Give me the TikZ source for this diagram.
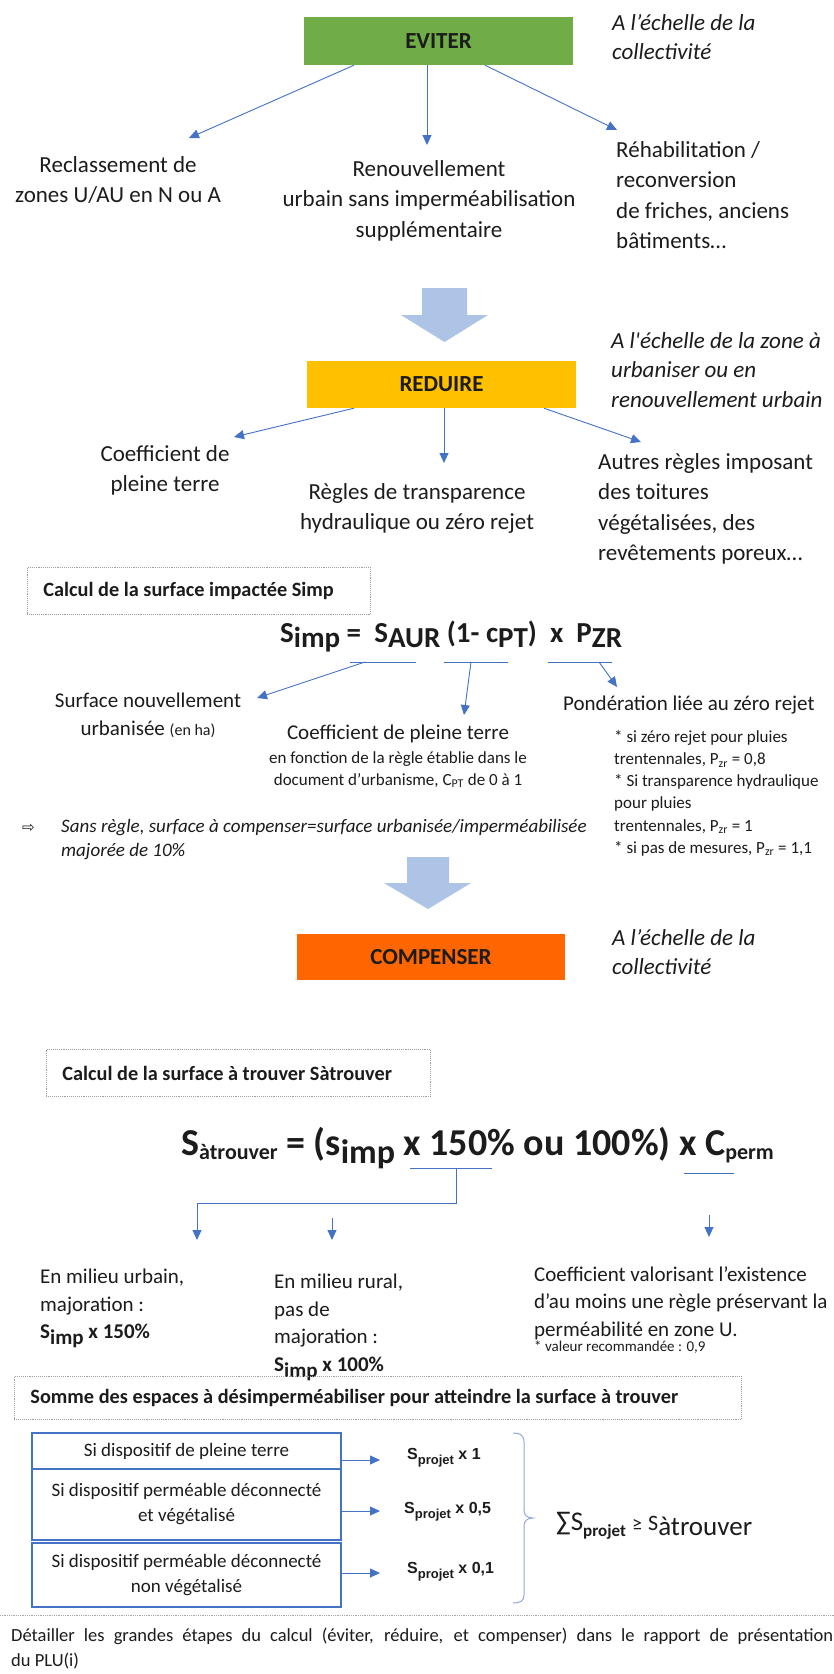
\documentclass[tikz,border=0pt]{standalone}
\usepackage{fontspec}
\setmainfont{Carlito}
\newfontfamily\arialfont{Liberation Sans}
\newfontfamily\dejavufont{DejaVu Sans}
\usetikzlibrary{arrows.meta}
\newcommand\myfs[2]{\fontsize{#1}{#2}\selectfont}
\newcommand\mysub[2][5pt]{\lower#1\hbox{#2}}
\definecolor{linkblue}{HTML}{4472C4}
\definecolor{bigblue}{HTML}{AEC4E6}
\definecolor{evgreen}{HTML}{70AD47}
\definecolor{redyellow}{HTML}{FFC000}
\definecolor{comporange}{HTML}{FF6600}
\definecolor{txtdark}{HTML}{1C1C1C}
\definecolor{bracecol}{HTML}{8FAADC}
\tikzset{
 stagebox/.style={inner sep=0pt, font=\bfseries\myfs{23}{28}, text=txtdark},
 note/.style={inner sep=0pt, anchor=north west, align=left, font=\itshape\myfs{23}{29.5}, text=txtdark},
 body/.style={inner sep=0pt, font=\myfs{23}{30.5}, text=txtdark},
 mid/.style={inner sep=0pt, font=\myfs{21}{27.5}, text=txtdark},
 small/.style={inner sep=0pt, font=\myfs{17}{22.2}, text=txtdark},
 link/.style={draw=linkblue, line width=0.9pt, -{Triangle[width=9pt,length=10pt]}},
 uline/.style={draw=linkblue, line width=0.9pt},
 dotbox/.style={draw=gray!75, densely dotted, line width=0.9pt, inner xsep=16pt, inner ysep=0pt, anchor=north west, align=left, font=\bfseries\myfs{20.3}{25}, text=txtdark},
 bbox/.style={draw=linkblue, line width=2pt, minimum width=309pt, inner sep=0pt, align=center, font=\myfs{19}{25}, text=txtdark},
 bigarrow/.style={fill=bigblue},
 projet/.style={inner sep=0pt, anchor=west, font=\arialfont\bfseries\myfs{16}{18}, text=txtdark},
}
\begin{document}
\begin{tikzpicture}[x=1pt,y=-1pt]
\useasboundingbox (0,0) rectangle (834,1674);
\fill[white] (0,0) rectangle (834,1674);

% ---------- EVITER ----------
\node[stagebox, fill=evgreen, minimum width=269pt, minimum height=48pt] (ev) at (438.5,41) {EVITER};
\node[note] (n1) at (612,14) {A l’échelle de la\\collectivité};
\node[body, anchor=north, align=center] (t1) at (118,156) {Reclassement de\\zones U/AU en N ou A};
\node[body, anchor=north, align=center] (t2) at (429,160) {Renouvellement\\urbain sans imperméabilisation\\supplémentaire};
\node[body, anchor=north west, align=left] (t3) at (616,141) {Réhabilitation /\\reconversion\\de friches, anciens\\bâtiments…};
\coordinate (e1) at (189,138);
\coordinate (e2) at (427,145);
\coordinate (e3) at (617,130);
\draw[link] ([xshift=-84.5pt]ev.south) -- (e1);
\draw[link] ([xshift=-11.5pt]ev.south) -- (e2);
\draw[link] ([xshift=46.5pt]ev.south) -- (e3);

% big arrow 1
\fill[bigarrow] (422,288) -- (467,288) -- (467,315) -- (488,315) -- (444.5,342) -- (401,315) -- (422,315) -- cycle;

% ---------- REDUIRE ----------
\node[note] (n2) at (611,332) {A l\textquotesingle échelle de la zone à\\urbaniser ou en\\renouvellement urbain};
\node[stagebox, fill=redyellow, minimum width=269pt, minimum height=47pt] (re) at (441.5,384.5) {REDUIRE};
\node[body, anchor=north, align=center] (r1) at (165,445) {Coefficient de\\pleine terre};
\node[body, anchor=north, align=center] (r2) at (417,483) {Règles de transparence\\hydraulique ou zéro rejet};
\node[body, anchor=north west, align=left] (r3) at (598,453) {Autres règles imposant\\des toitures\\végétalisées, des\\revêtements poreux…};
\coordinate (q1) at (234,437);
\coordinate (q2) at (444,463);
\coordinate (q3) at (641,442);
\draw[link] ([xshift=-87.5pt]re.south) -- (q1);
\draw[link] ([xshift=2.5pt]re.south) -- (q2);
\draw[link] ([xshift=102.5pt]re.south) -- (q3);

% ---------- Simp ----------
\node[dotbox, minimum width=343pt, minimum height=47pt] (d1) at (27,567) {\makebox[311pt][l]{Calcul de la surface impactée Simp}};
\node[anchor=base west, inner sep=0pt, font=\bfseries\myfs{29}{31}, text=txtdark] (f1) at (280,642)
  {S\mysub{imp} =\ \ S\mysub{AUR} (1-\ c\mysub{PT})\ \ x\ \ P\mysub{ZR}};
\coordinate (u1a) at (350,662); \coordinate (u1b) at (416,662); \coordinate (u1s) at (365,662);
\coordinate (u2a) at (444,662); \coordinate (u2b) at (508,662); \coordinate (u2s) at (471,662);
\coordinate (u3a) at (548,662); \coordinate (u3b) at (612,662); \coordinate (u3s) at (599,662);
\draw[uline] (u1a) -- (u1b);
\draw[uline] (u2a) -- (u2b);
\draw[uline] (u3a) -- (u3b);
\coordinate (g1) at (257,698);
\coordinate (g2) at (464,715);
\coordinate (g3) at (617,687);
\draw[link] (u1s) -- (g1);
\draw[link] (u2s) -- (g2);
\draw[link] (u3s) -- (g3);
\node[mid, anchor=north, align=center] (s1) at (148,693) {Surface nouvellement\\urbanisée {\myfs{16}{20}(en ha)}};
\node[mid, anchor=north] (s2) at (398,725) {Coefficient de pleine terre};
\node[small, anchor=north, align=center] (s2d) at (398,751) {en fonction de la règle établie dans le\\document d’urbanisme, C\textsubscript{PT} de 0 à 1};
\node[mid, anchor=north west] (s3) at (563,696) {Pondération liée au zéro rejet};
\node[small, anchor=north west, align=left] (s3d) at (614,730) {* si zéro rejet pour pluies\\trentennales, P\textsubscript{zr} = 0,8\\* Si transparence hydraulique\\pour pluies\\trentennales, P\textsubscript{zr} = 1\\* si pas de mesures, P\textsubscript{zr} = 1,1};
\node[inner sep=0pt, anchor=west, font=\dejavufont\myfs{15}{18}, text=txtdark] (sr0) at (22,828) {⇨};
\node[inner sep=0pt, anchor=north west, align=left, font=\itshape\myfs{19}{24}, text=txtdark] (sr) at (61,819) {Sans règle, surface à compenser=surface urbanisée/imperméabilisée\\majorée de 10\%};

% big arrow 2
\fill[bigarrow] (407,857) -- (449,857) -- (449,883) -- (471,883) -- (428,909) -- (384,883) -- (407,883) -- cycle;

% ---------- COMPENSER ----------
\node[stagebox, fill=comporange, minimum width=268pt, minimum height=46pt] (co) at (431,957) {COMPENSER};
\node[note] (n3) at (612,929) {A l’échelle de la\\collectivité};

% ---------- Satrouver ----------
\node[dotbox, minimum width=384pt, minimum height=47pt] (d2) at (46,1049) {\makebox[352pt][l]{Calcul de la surface à trouver Sàtrouver}};
\node[anchor=base west, inner sep=0pt, font=\bfseries\myfs{38}{42}, text=txtdark] (f2) at (181,1155)
  {S\mysub[4pt]{\myfs{22}{24}àtrouver} = (s\mysub[8pt]{\myfs{34}{36}imp} x 150\% ou 100\%) x C\mysub[4pt]{\myfs{22}{24}perm}};
\coordinate (w1a) at (410,1168); \coordinate (w1b) at (492,1168); \coordinate (w1s) at (456,1168);
\coordinate (w2a) at (684,1173); \coordinate (w2b) at (734,1173);
\draw[uline] (w1a) -- (w1b);
\draw[uline] (w2a) -- (w2b);
\coordinate (h1) at (197,1240);
\coordinate (h2s) at (332,1218); \coordinate (h2) at (332,1240);
\coordinate (h3s) at (709,1215); \coordinate (h3) at (709,1237);
\draw[link] (w1s) |- (h1 |- 0,1203) -- (h1);
\draw[link] (h2s) -- (h2);
\draw[link] (h3s) -- (h3);
\node[mid, anchor=north west, align=left] (m1) at (40,1269) {En milieu urbain,\\majoration :\\{\bfseries S\mysub[6pt]{imp} x 150\%}};
\node[mid, anchor=north west, align=left] (m2) at (274,1274) {En milieu rural,\\pas de\\majoration :\\{\bfseries S\mysub[6pt]{imp} x 100\%}};
\node[mid, anchor=north west, align=left] (m3) at (534,1266) {Coefficient valorisant l’existence\\d’au moins une règle préservant la\\perméabilité en zone U.};
\node[inner sep=0pt, anchor=north west, font=\myfs{15}{18}, text=txtdark] (m3d) at (534,1341) {* valeur recommandée : 0,9};

% ---------- Somme ----------
\node[dotbox, minimum width=727pt, minimum height=43pt] (d3) at (14,1376) {\makebox[695pt][l]{Somme des espaces à désimperméabiliser pour atteindre la surface à trouver}};
\node[bbox, minimum height=36pt] (b1) at (186.5,1451) {Si dispositif de pleine terre};
\node[bbox, minimum height=71pt] (b2) at (186.5,1504.5) {Si dispositif perméable déconnecté\\et végétalisé};
\node[bbox, minimum height=64pt] (b3) at (186.5,1575) {Si dispositif perméable déconnecté\\non végétalisé};
\coordinate (k1) at (380,1460);
\coordinate (k2) at (380,1511);
\coordinate (k3) at (380,1573);
\draw[link] ([yshift=-9pt]b1.east) -- (k1);
\draw[link] ([yshift=-6.5pt]b2.east) -- (k2);
\draw[link] ([yshift=2pt]b3.east) -- (k3);
\node[projet] (p1) at (407,1458) {S\mysub[5pt]{\myfs{13}{15}projet} x 1};
\node[projet] (p2) at (404,1512) {S\mysub[5pt]{\myfs{13}{15}projet} x 0,5};
\node[projet] (p3) at (407,1572) {S\mysub[5pt]{\myfs{13}{15}projet} x 0,1};
\draw[bracecol, line width=1pt] (513,1433) .. controls (520,1433) and (524,1435) .. (524,1442) -- (524,1510) .. controls (524,1515) and (527,1518) .. (533,1518) .. controls (527,1518) and (524,1521) .. (524,1526) -- (524,1595) .. controls (524,1601) and (520,1603) .. (513,1603);
\node[anchor=base west, inner sep=0pt, font=\myfs{27}{30}, text=txtdark] (sum) at (556,1530)
  {∑S\mysub[6pt]{\bfseries\myfs{17}{20}projet} {\myfs{20}{22}≥} {\myfs{22}{24}S}\mysub[5pt]{àtrouver}};

% ---------- bottom ----------
\draw[gray!70, line width=0.8pt, densely dotted] (0,1615) -- (834,1615);
\node[inner sep=0pt, anchor=north west, text width=822pt, align=justify, font=\myfs{18.5}{24.5}, text=txtdark] (bt) at (11,1628)
  {Détailler les grandes étapes du calcul (éviter, réduire, et compenser) dans le rapport de présentation\linebreak du PLU(i)};
\end{tikzpicture}
\end{document}
